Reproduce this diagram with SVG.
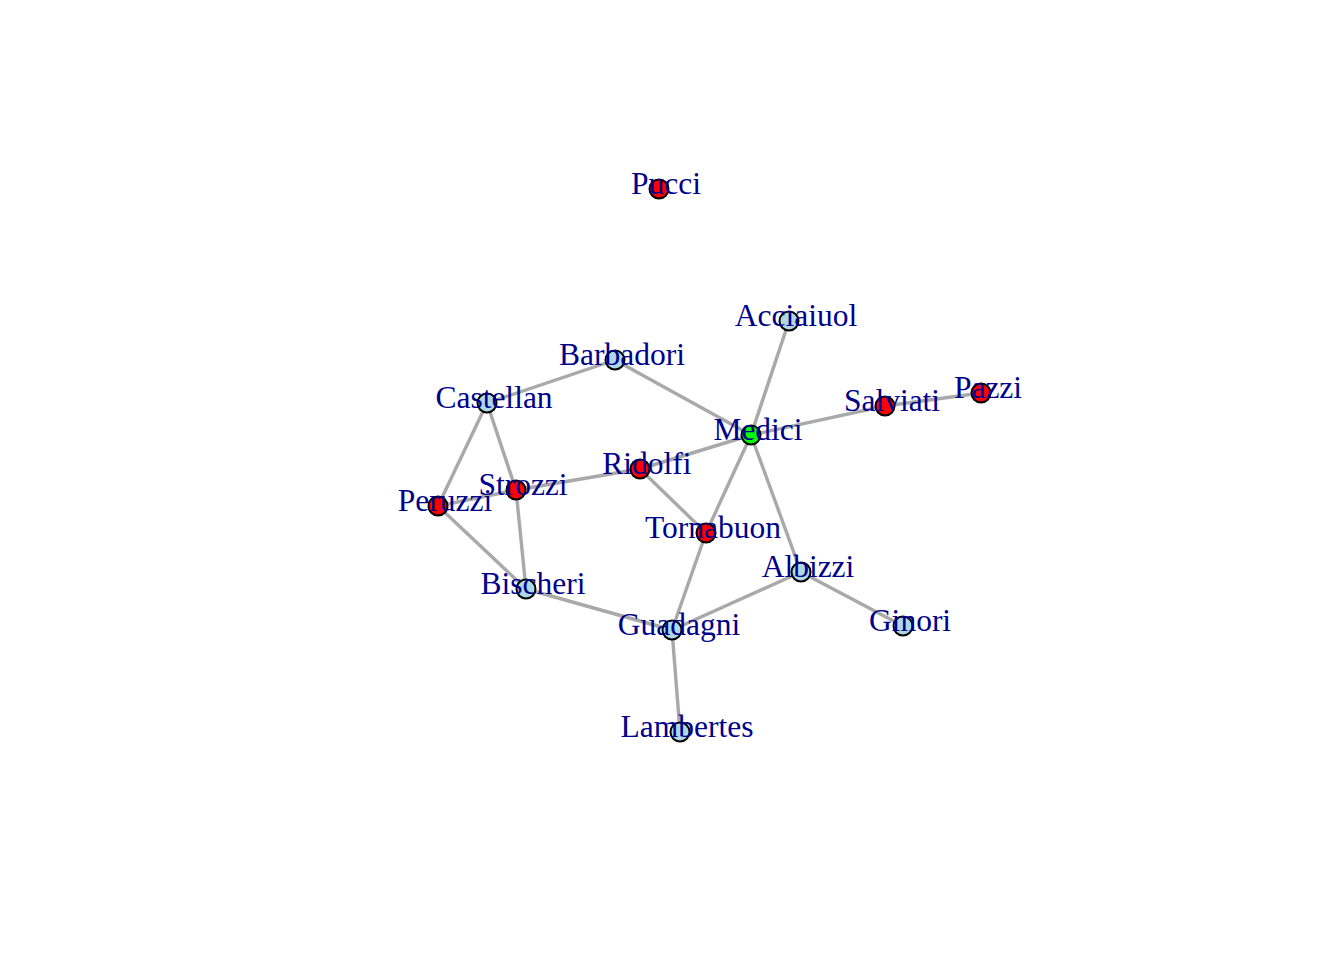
<svg xmlns="http://www.w3.org/2000/svg" width="1344" height="960" viewBox="0 0 1344 960">
<style>
.e{stroke:#A9A9A9;stroke-width:3.4;fill:none}
.n{stroke:#000;stroke-width:2}
.b{fill:#ADD8E6}.r{fill:#FF0000}.g{fill:#00FF00}
text{font-family:"Liberation Serif","Times New Roman",serif;font-size:31.5px;fill:#00008B;text-anchor:middle}
</style>
<rect width="1344" height="960" fill="#fff"/>
<g id="edges">
<line class="e" x1="789" y1="321" x2="751" y2="435"/>
<line class="e" x1="801" y1="572" x2="903" y2="626"/>
<line class="e" x1="801" y1="572" x2="672" y2="630"/>
<line class="e" x1="801" y1="572" x2="751" y2="435"/>
<line class="e" x1="615" y1="360" x2="487" y2="403"/>
<line class="e" x1="615" y1="360" x2="751" y2="435"/>
<line class="e" x1="526" y1="589" x2="672" y2="630"/>
<line class="e" x1="526" y1="589" x2="438" y2="506"/>
<line class="e" x1="526" y1="589" x2="516" y2="490"/>
<line class="e" x1="487" y1="403" x2="438" y2="506"/>
<line class="e" x1="487" y1="403" x2="516" y2="490"/>
<line class="e" x1="672" y1="630" x2="680" y2="732"/>
<line class="e" x1="672" y1="630" x2="706" y2="533"/>
<line class="e" x1="751" y1="435" x2="640" y2="469"/>
<line class="e" x1="751" y1="435" x2="885" y2="406"/>
<line class="e" x1="751" y1="435" x2="706" y2="533"/>
<line class="e" x1="981" y1="393" x2="885" y2="406"/>
<line class="e" x1="438" y1="506" x2="516" y2="490"/>
<line class="e" x1="640" y1="469" x2="516" y2="490"/>
<line class="e" x1="640" y1="469" x2="706" y2="533"/>
</g>
<g id="nodes">
<g id="Pucci"><circle class="n r" cx="659" cy="189" r="9.5"/></g>
<g id="Acciaiuol"><circle class="n b" cx="789" cy="321" r="9.5"/></g>
<g id="Barbadori"><circle class="n b" cx="615" cy="360" r="9.5"/></g>
<g id="Castellan"><circle class="n b" cx="487" cy="403" r="9.5"/></g>
<g id="Salviati"><circle class="n r" cx="885" cy="406" r="9.5"/></g>
<g id="Pazzi"><circle class="n r" cx="981" cy="393" r="9.5"/></g>
<g id="Medici"><circle class="n g" cx="751" cy="435" r="9.5"/></g>
<g id="Ridolfi"><circle class="n r" cx="640" cy="469" r="9.5"/></g>
<g id="Strozzi"><circle class="n r" cx="516" cy="490" r="9.5"/></g>
<g id="Peruzzi"><circle class="n r" cx="438" cy="506" r="9.5"/></g>
<g id="Tornabuon"><circle class="n r" cx="706" cy="533" r="9.5"/></g>
<g id="Albizzi"><circle class="n b" cx="801" cy="572" r="9.5"/></g>
<g id="Bischeri"><circle class="n b" cx="526" cy="589" r="9.5"/></g>
<g id="Guadagni"><circle class="n b" cx="672" cy="630" r="9.5"/></g>
<g id="Ginori"><circle class="n b" cx="903" cy="626" r="9.5"/></g>
<g id="Lambertes"><circle class="n b" cx="680" cy="732" r="9.5"/></g>
</g>
<g id="labels">
<text x="666" y="194">Pucci</text>
<text x="796" y="326">Acciaiuol</text>
<text x="622" y="365">Barbadori</text>
<text x="494" y="408">Castellan</text>
<text x="892" y="411">Salviati</text>
<text x="988" y="398">Pazzi</text>
<text x="758" y="440">Medici</text>
<text x="647" y="474">Ridolfi</text>
<text x="523" y="495">Strozzi</text>
<text x="445" y="511">Peruzzi</text>
<text x="713" y="538">Tornabuon</text>
<text x="808" y="577">Albizzi</text>
<text x="533" y="594">Bischeri</text>
<text x="679" y="635">Guadagni</text>
<text x="910" y="631">Ginori</text>
<text x="687" y="737">Lambertes</text>
</g>
</svg>
